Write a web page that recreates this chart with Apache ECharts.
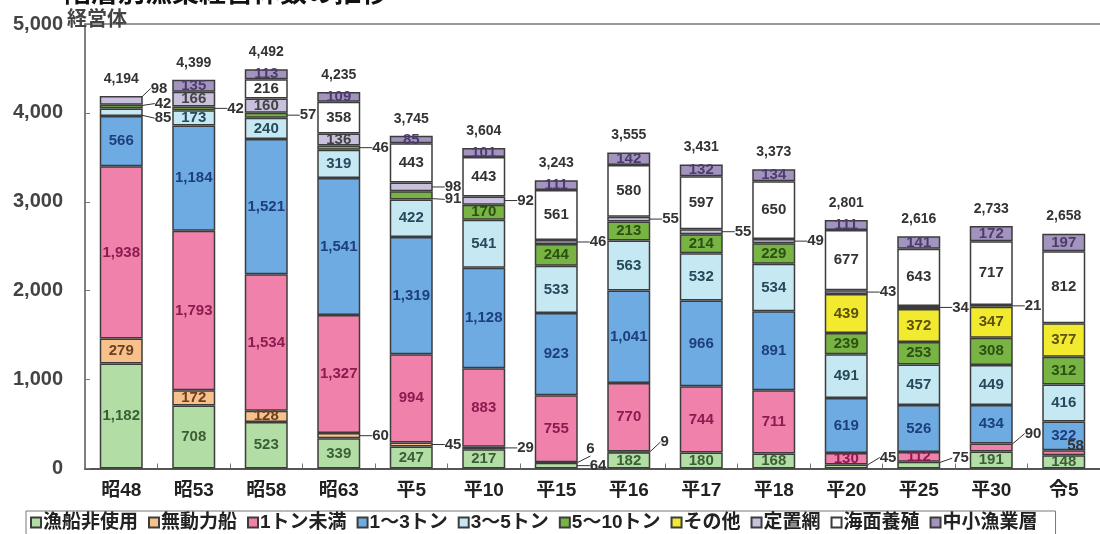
<!DOCTYPE html>
<html>
<head>
<meta charset="utf-8">
<script src="https://cdn.jsdelivr.net/npm/echarts@6/dist/echarts.min.js"></script>
<style>
  html, body { margin: 0; padding: 0; background: #fff; }
  #chart { width: 1100px; height: 534px; }
</style>
</head>
<body>
<div id="chart"></div>
<script>
// 調査年
const categories = ['昭48', '昭53', '昭58', '昭63', '平5', '平10', '平15', '平16', '平17', '平18', '平20', '平25', '平30', '令5'];

// 階層別の経営体数（下から積み上げ順）
const noBoat      = [1182, 708, 523, 339, 247, 217, 64, 182, 180, 168, 45, 75, 191, 148];
const nonPowered  = [279, 172, 128, 60, 45, 29, 6, 9, null, null, null, null, null, null];
const under1t     = [1938, 1793, 1534, 1327, 994, 883, 755, 770, 744, 711, 130, 112, 90, 58];
const t1to3       = [566, 1184, 1521, 1541, 1319, 1128, 923, 1041, 966, 891, 619, 526, 434, 322];
const t3to5       = [85, 173, 240, 319, 422, 541, 533, 563, 532, 534, 491, 457, 449, 416];
const t5to10      = [42, 42, 57, 46, 91, 170, 244, 213, 214, 229, 239, 253, 308, 312];
const others      = [null, null, null, null, null, null, null, null, null, null, 439, 372, 347, 377];
const setNet      = [98, 166, 160, 136, 98, 92, 46, 55, 55, 49, 43, 34, 21, null];
const aquaculture = [null, null, 216, 358, 443, 443, 561, 580, 597, 650, 677, 643, 717, 812];
const midSmall    = [null, 135, 113, 109, 85, 101, 111, 142, 132, 134, 111, 141, 172, 197];

// 合計（棒の上に表示）
const totals = [4194, 4399, 4492, 4235, 3745, 3604, 3243, 3555, 3431, 3373, 2801, 2616, 2733, 2658];

// 軸目盛
const yMin = 0, yMax = 5000, yStep = 1000;

const FONT = "'Liberation Sans', 'Noto Sans CJK JP', sans-serif";

const layers = [
  { name: '漁船非使用', data: noBoat,      fill: '#b2dda4', text: '#3b5e36' },
  { name: '無動力船',   data: nonPowered,  fill: '#f8c08a', text: '#6b4020' },
  { name: '1トン未満',  data: under1t,     fill: '#f081ab', text: '#8c1c50' },
  { name: '1～3トン',   data: t1to3,       fill: '#6fabe3', text: '#1d3f7c' },
  { name: '3～5トン',   data: t3to5,       fill: '#c6e8f2', text: '#244a5c' },
  { name: '5～10トン',  data: t5to10,      fill: '#78b444', text: '#2d4f14' },
  { name: 'その他',     data: others,      fill: '#f2ea2e', text: '#5b5010' },
  { name: '定置網',     data: setNet,      fill: '#c9c0de', text: '#444444' },
  { name: '海面養殖',   data: aquaculture, fill: '#ffffff', text: '#333333' },
  { name: '中小漁業層', data: midSmall,    fill: '#a394bf', text: '#4c3c6c' }
];

// 細い層の値は棒の右側に引き出し線付きで表示する
const isOutside = (name, v) => v != null && v < 100 && name !== '中小漁業層';

// 引き出しラベルの位置調整 [dx, dy]
const labelShift = {
  '昭48|定置網': [4, -12],
  '昭48|5～10トン': [8, -3],
  '昭48|3～5トン': [8, 6],
  '平5|5～10トン': [8, 4],
  '平15|無動力船': [4, -14],
  '平16|無動力船': [6, -10],
  '平20|漁船非使用': [8, -9],
  '平25|漁船非使用': [8, -7],
  '平30|1トン未満': [8, -14],
  '令5|1トン未満': [-22, -7]
};

const fmt = v => Number(v).toLocaleString('en-US');

const series = layers.map(layer => ({
  name: layer.name,
  type: 'bar',
  stack: 'total',
  barWidth: 43,
  silent: true,
  itemStyle: { color: layer.fill, borderColor: '#3c3c3c', borderWidth: 1.5 },
  label: {
    show: true,
    position: 'inside',
    color: layer.text,
    fontFamily: FONT,
    fontSize: 15,
    fontWeight: 'bold',
    formatter: p => (p.value == null ? '' : fmt(p.value))
  },
  labelLine: { show: false, lineStyle: { color: '#333', width: 1 } },
  labelLayout: p => {
    const v = layer.data[p.dataIndex];
    if (!isOutside(layer.name, v)) return {};
    const s = labelShift[categories[p.dataIndex] + '|' + layer.name] || [8, 0];
    return { dx: s[0], dy: s[1] };
  },
  data: layer.data.map(v => {
    if (v == null) return null;
    if (isOutside(layer.name, v)) {
      return {
        value: v,
        label: { position: 'right', distance: 4, color: '#333', fontWeight: 'bold' },
        labelLine: { show: true }
      };
    }
    return v;
  })
}));

// 合計ラベル用の高さ0の系列
series.push({
  name: '合計',
  type: 'bar',
  stack: 'total',
  barWidth: 43,
  silent: true,
  itemStyle: { color: 'transparent', borderWidth: 0 },
  label: {
    show: true,
    position: 'top',
    distance: 10,
    color: '#333',
    fontFamily: FONT,
    fontSize: 14,
    fontWeight: 'bold',
    formatter: p => fmt(totals[p.dataIndex])
  },
  data: totals.map(() => 0)
});

const chart = echarts.init(document.getElementById('chart'), null, { renderer: 'canvas' });
chart.setOption({
  animation: false,
  backgroundColor: '#ffffff',
  textStyle: { fontFamily: FONT },
  title: [
    {
      text: '階層別漁業経営体数の推移',
      left: 64, top: -19, padding: 0,
      textStyle: { fontSize: 27, fontWeight: 'bold', color: '#111', fontFamily: FONT }
    },
    {
      text: '経営体',
      left: 67, top: 10, padding: 0,
      textStyle: { fontSize: 20, fontWeight: 'bold', color: '#444', fontFamily: FONT }
    }
  ],
  legend: {
    data: layers.map(l => l.name),
    left: 26, top: 511,
    padding: [2, 18, 10, 4],
    itemGap: 10,
    itemWidth: 10, itemHeight: 10,
    icon: 'rect',
    borderColor: '#777', borderWidth: 1,
    selectedMode: false,
    textStyle: { fontSize: 19, fontWeight: 'bold', color: '#222', fontFamily: FONT, padding: [0, 0, 0, -3] }
  },
  grid: { left: 85, right: -10, top: 24, bottom: 65.5, containLabel: false },
  xAxis: [
    {
      type: 'category',
      data: categories,
      axisLine: { show: true, lineStyle: { color: '#555', width: 2 } },
      axisTick: { show: true, inside: true, length: 5, lineStyle: { color: '#777' } },
      axisLabel: { margin: 13, fontSize: 19, color: '#222', fontWeight: 'bold', fontFamily: FONT }
    },
    {
      type: 'category',
      data: categories,
      position: 'top',
      axisLine: { show: true, lineStyle: { color: '#777', width: 1.5 } },
      axisTick: { show: false },
      axisLabel: { show: false }
    }
  ],
  yAxis: {
    type: 'value',
    min: yMin, max: yMax, interval: yStep,
    axisLine: { show: true, lineStyle: { color: '#555', width: 1.5 } },
    axisTick: { show: true, inside: true, length: 5, lineStyle: { color: '#777' } },
    splitLine: { show: false },
    axisLabel: { margin: 22, fontSize: 20, fontWeight: 'bold', color: '#444', fontFamily: FONT, formatter: v => fmt(v) }
  },
  series: series
});
</script>
</body>
</html>
